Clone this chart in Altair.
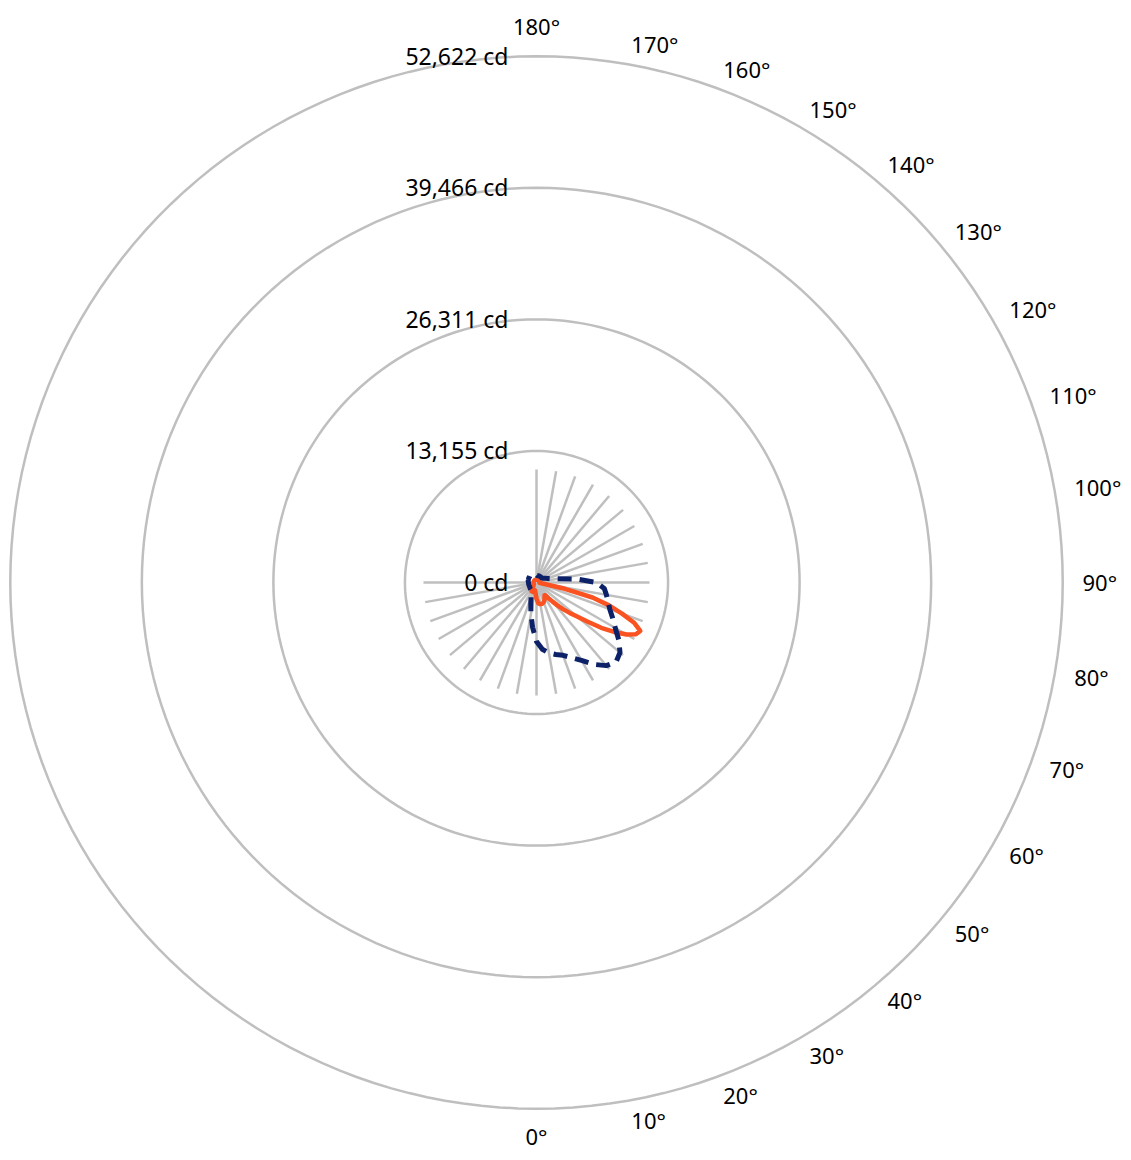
import altair as alt
import pandas as pd

# ---- data (candela) ----
orange_angles = [0, 5, 10, 15, 20, 25, 30, 32.5, 35, 37.5, 40, 42.5, 45, 47.5, 50,
                 52.5, 55, 57.5, 60, 62.5, 65, 67.5, 70, 72.5, 75, 77.5, 80, 85,
                 90, 120, 150, 180, 210, 240, 270, 300, 320, 330, 340, 345, 350, 355]
orange_cd = [1600, 2100, 2200, 2200, 2100, 1900, 1600, 1500, 1600, 2000, 2500, 3100, 3800, 4500, 5300,
             6400, 7900, 9200, 10400, 11200, 11450, 10600, 9100, 7600, 5800, 2900, 600, 300,
             300, 300, 300, 300, 300, 300, 300, 300, 500, 1000, 1000, 900, 800, 1100]

blue_angles = list(range(0, 360, 5))
blue_cd = [5900, 6700, 7150, 7450, 7750, 8300, 9000, 10000, 10850, 11250,
           10900, 10050, 9100, 8400, 7800, 7400, 7100, 6800, 6000, 4000,
           2200, 1550, 1200, 1000, 850, 750, 700, 700, 700, 700,
           700, 700, 700, 700, 700, 700, 750, 800, 850, 900,
           900, 920, 950, 950, 950, 930, 900, 900, 900, 880,
           860, 850, 850, 820, 800, 800, 800, 800, 800, 800,
           800, 820, 850, 880, 900, 1000, 1100, 1300, 1600, 2200,
           3200, 4500]

ring_values = [0, 13155, 26311, 39466, 52622]
spoke_angles = list(range(0, 190, 10)) + list(range(270, 360, 10))
spoke_length = 11300
label_angles = list(range(0, 190, 10))

# ---- page geometry (1 px = 100 cd) ----
W, H = 1115, 1144
CX, CY = 528.5, 574.5
K = 100
xdom = [-CX * K, (W - CX) * K]
ydom = [-(H - CY) * K, CY * K]

xs = alt.Scale(domain=xdom, nice=False, zero=False)
ys = alt.Scale(domain=ydom, nice=False, zero=False)
X = lambda f: alt.X(f, type="quantitative", scale=xs, axis=None)
Y = lambda f: alt.Y(f, type="quantitative", scale=ys, axis=None)

FONT = "Noto Sans"
FS = 22
GRID = "#BFBFBF"

rings_df = pd.DataFrame({"v": ring_values})
orange_df = pd.DataFrame({"a": orange_angles, "r": orange_cd})
blue_df = pd.DataFrame({"a": blue_angles, "r": blue_cd})
spoke_df = pd.DataFrame({"a": spoke_angles, "L": [spoke_length] * len(spoke_angles)})
lab_df = pd.DataFrame({"a": label_angles})

rings = (
    alt.Chart(rings_df)
    .transform_filter("datum.v > 0")
    .transform_calculate(t="sequence(0, 361, 2)")
    .transform_flatten(["t"])
    .transform_calculate(
        x="datum.v*sin(datum.t*PI/180)",
        y="-datum.v*cos(datum.t*PI/180)",
    )
    .mark_line(color=GRID, strokeWidth=2.5)
    .encode(x=X("x"), y=Y("y"), detail="v:N", order="t:Q")
)

spokes = (
    alt.Chart(spoke_df)
    .transform_calculate(
        x0="0", y0="0",
        x1="datum.L*sin(datum.a*PI/180)",
        y1="-datum.L*cos(datum.a*PI/180)",
    )
    .mark_rule(color=GRID, strokeWidth=2.5)
    .encode(x=X("x0"), y=Y("y0"), x2="x1:Q", y2="y1:Q")
)

ring_labels = (
    alt.Chart(rings_df)
    .transform_calculate(x="0", txt="format(datum.v, ',') + ' cd'")
    .mark_text(align="right", baseline="middle", dx=-28, dy=1.5, font=FONT, fontSize=23, color="#000000")
    .encode(x=X("x"), y=Y("v"), text="txt:N")
)

def curve(df, color, width, dash=None):
    kw = dict(color=color, strokeWidth=width, interpolate="linear-closed",
              strokeJoin="round")
    if dash:
        kw["strokeDash"] = dash
    return (
        alt.Chart(df)
        .transform_calculate(
            x="datum.r*sin(datum.a*PI/180)",
            y="-datum.r*cos(datum.a*PI/180)",
        )
        .mark_line(**kw)
        .encode(x=X("x"), y=Y("y"), order="a:Q")
    )

orange = curve(orange_df, "#FA5220", 4.5)
blue = curve(blue_df, "#0D2168", 5, [14, 8])

side_labels = (
    alt.Chart(lab_df)
    .transform_filter("datum.a > 0 && datum.a < 180")
    .transform_calculate(
        x=f"546*{K}*sin(datum.a*PI/180)",
        y=f"-546*{K}*cos(datum.a*PI/180)",
        txt="datum.a + '°'",
    )
    .mark_text(align="left", baseline="middle", dy=1.5, font=FONT, fontSize=FS, color="#000000")
    .encode(x=X("x"), y=Y("y"), text="txt:N")
)

end_labels = (
    alt.Chart(lab_df)
    .transform_filter("datum.a == 0 || datum.a == 180")
    .transform_calculate(
        R="datum.a == 0 ? 554 : 556",
        x=f"datum.R*{K}*sin(datum.a*PI/180)",
        y=f"-datum.R*{K}*cos(datum.a*PI/180)",
        txt="datum.a + '°'",
    )
    .mark_text(align="center", baseline="middle", dy=1.5, font=FONT, fontSize=FS, color="#000000")
    .encode(x=X("x"), y=Y("y"), text="txt:N")
)

chart = (
    alt.layer(rings, spokes, orange, blue, ring_labels, side_labels, end_labels)
    .properties(width=W, height=H, padding=0, autosize=alt.AutoSizeParams(type="none"))
    .configure_view(stroke=None)
)

chart.save("out.html", embed_options={"renderer": "svg", "actions": False})
